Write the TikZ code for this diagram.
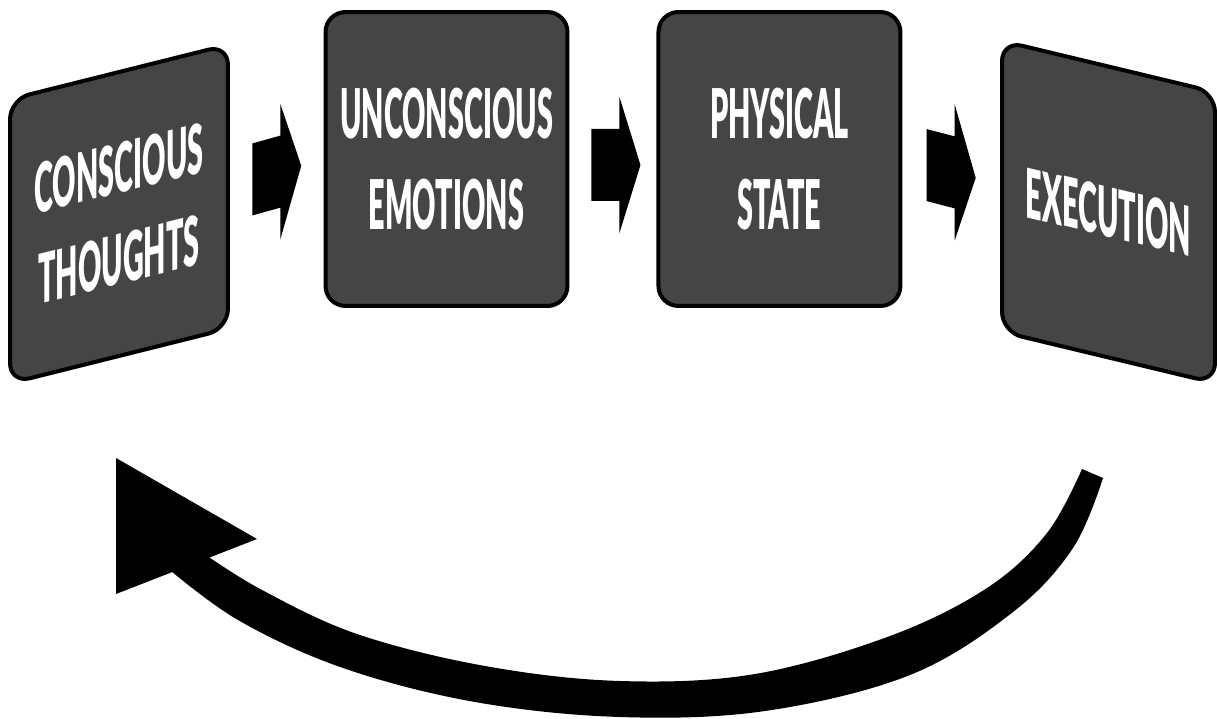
\documentclass[tikz,border=0pt]{standalone}
\usepackage{fontspec}
\newfontfamily\boxfont{Lato Black}[FakeStretch=0.42]
\usepackage{xcolor}
\definecolor{boxgray}{HTML}{454545}
\usepackage{tikz}
\usetikzlibrary{calc, positioning}

\begin{document}
\begin{tikzpicture}[
  x=0.02cm, y=-0.02cm,
  box/.style={draw=black, fill=boxgray, rounded corners=0.4cm, line width=0.08cm, minimum width=4.84cm, minimum height=5.88cm, align=center, text=white, font=\boxfont\fontsize{39}{52}\selectfont},
  blockarr/.pic={\fill[black] (-24.5,-36) -- (3.5,-36) -- (3.5,-68) -- (24.5,0) -- (3.5,68) -- (3.5,36) -- (-24.5,36) -- cycle;},
]
  \useasboundingbox (0,0) rectangle (1217,719);

  % Boxes
  \begin{scope}[shift={(119,214)}, yslant=0.25, transform shape]
    \node[box, minimum width=4.36cm, minimum height=5.68cm] (conscious) {CONSCIOUS\\THOUGHTS};
  \end{scope}
  \node[box] (unconscious) at (446.5,159) {UNCONSCIOUS\\EMOTIONS};
  \node[box, right=1.74cm of unconscious] (physical) {PHYSICAL\\STATE};
  \begin{scope}[shift={(1108.5,212)}, yslant=-0.24, transform shape]
    \node[box, minimum width=4.26cm, minimum height=5.82cm] (execution) {EXECUTION};
  \end{scope}

  % Arrows
  \pic[yslant=0.28] at ($(conscious.east)!0.5!(unconscious.west)$) {blockarr};
  \pic at ($(unconscious.east)!0.5!(physical.west)+(3,6)$) {blockarr};
  \pic[yslant=-0.26] at ($(physical.east)!0.5!(execution.west)+(0,-1)$) {blockarr};

  % Feedback loop
  \coordinate (looptail) at (1092,473);
  \coordinate (looptip) at (116,458);
  \fill[black] plot[smooth, tension=0.6] coordinates {(1103,478) (1073,548) (1013,612) (910,675) (765,711) (620,717) (475,702) (343,668) (238,620) (165,566)}
    -- plot[smooth, tension=0.6] coordinates {(203,553) (262,590) (357,634) (485,666) (620,681) (755,674) (890,636) (987,588) (1047,533) (1082,469)} -- cycle;
  \fill[black] (looptip) -- (257,539) -- (116,594) -- cycle;
\end{tikzpicture}
\end{document}
